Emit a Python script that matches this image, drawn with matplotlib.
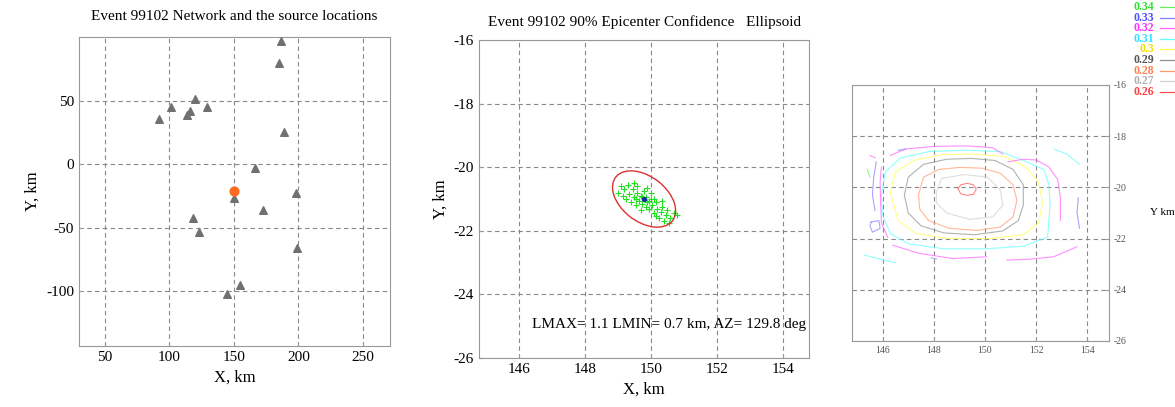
import matplotlib
matplotlib.use("Agg")
import matplotlib.pyplot as plt
from matplotlib.patches import Ellipse
from matplotlib.lines import Line2D

plt.rcParams['font.family'] = ['Liberation Serif', 'DejaVu Serif']
plt.rcParams['axes.unicode_minus'] = False

# ---- data ----
# station network (x, y in km)
sta_x = [186.8, 184.7, 119.7, 101.1, 129.2, 115.8, 113.7, 92.0, 188.8,
         166.6, 198.4, 150.1, 172.6, 118.1, 123.0, 199.1, 155.0, 144.7]
sta_y = [97.1, 79.7, 51.6, 45.0, 45.3, 41.9, 38.8, 35.4, 25.5,
         -2.9, -22.9, -26.3, -36.2, -42.7, -53.6, -65.6, -95.3, -101.8]
src_x = [150.5]
src_y = [-21.0]

# epicenter solutions (bootstrap cloud) and ellipse
cloud_x = [149.3, 149.5, 149.2, 149.45, 149.6, 149.35, 149.15, 149.5, 149.7, 149.65,
           149.85, 149.9, 150.0, 149.75, 150.05, 150.15, 150.2, 149.95, 150.3, 150.35,
           150.1, 150.45, 150.25, 150.5, 150.6, 150.55, 150.7, 149.1, 149.0, 149.25,
           149.55, 149.8, 150.0, 150.35, 149.4, 149.7, 150.8, 150.4, 149.6, 149.9,
           150.15, 149.55, 149.75, 149.95, 150.1, 149.85]
cloud_y = [-20.55, -20.5, -20.7, -20.7, -20.8, -20.85, -20.9, -20.95, -20.9, -21.05,
           -20.95, -21.1, -21.0, -21.15, -21.2, -21.1, -21.3, -21.3, -21.4, -21.25,
           -21.45, -21.5, -21.6, -21.35, -21.6, -21.75, -21.45, -20.6, -20.8, -21.0,
           -21.2, -20.75, -20.8, -21.05, -21.1, -21.35, -21.5, -21.7, -20.6, -20.65,
           -21.55, -21.0, -20.95, -21.05, -21.0, -21.25]
epi_x, epi_y = 149.8, -21.0
lmax, lmin, az = 1.1, 0.7, 129.8

# misfit contour levels and traced contour pieces (level, x list, y list)
levels = [0.34, 0.33, 0.32, 0.31, 0.3, 0.29, 0.28, 0.27, 0.26]
level_labels = ['0.34', '0.33', '0.32', '0.31', '0.3', '0.29', '0.28', '0.27', '0.26']
contours = [
    (0.26, [148.95, 149.05, 149.3, 149.55, 149.66, 149.55, 149.3, 149.05, 148.95],
           [-20.05, -19.9, -19.84, -19.9, -20.07, -20.27, -20.31, -20.25, -20.05]),
    (0.27, [148.1, 148.3, 149.2, 150.1, 150.6, 150.7, 150.3, 149.4, 148.5, 148.1, 148.1],
           [-20.2, -19.65, -19.5, -19.6, -20.1, -20.7, -21.15, -21.25, -21.0, -20.6, -20.2]),
    (0.28, [147.4, 147.6, 148.2, 149.0, 149.9, 150.6, 151.1, 151.25, 151.1, 150.6, 149.7, 148.6, 147.8, 147.45, 147.4],
           [-20.3, -19.6, -19.3, -19.22, -19.25, -19.45, -19.9, -20.5, -21.15, -21.55, -21.68, -21.6, -21.3, -20.85, -20.3]),
    (0.29, [146.85, 147.0, 147.6, 148.5, 149.5, 150.4, 151.1, 151.5, 151.5, 151.3, 150.7, 149.6, 148.4, 147.5, 147.0, 146.85],
           [-20.3, -19.6, -19.1, -18.9, -18.87, -18.95, -19.3, -19.9, -20.7, -21.3, -21.7, -21.85, -21.78, -21.5, -21.0, -20.3]),
    (0.3, [146.3, 146.5, 147.2, 148.3, 149.6, 150.8, 151.6, 152.1, 152.25, 152.1, 151.5, 150.2, 148.6, 147.3, 146.6, 146.3],
          [-20.2, -19.4, -18.95, -18.72, -18.7, -18.8, -19.2, -19.8, -20.6, -21.4, -21.85, -22.0, -22.0, -21.8, -21.3, -20.2]),
    (0.31, [145.95, 146.1, 146.7, 147.8, 149.3, 150.6, 151.5, 152.3, 152.5, 152.55, 152.5, 152.45, 151.5, 150.0, 148.4, 147.0, 146.3, 146.0, 145.95],
           [-20.3, -19.4, -18.85, -18.6, -18.55, -18.6, -18.95, -19.3, -19.9, -20.6, -21.3, -21.95, -22.3, -22.4, -22.4, -22.2, -21.8, -21.1, -20.3]),
    (0.31, [152.7, 153.2, 153.7], [-18.5, -18.7, -19.1]),
    (0.31, [145.3, 145.9, 146.5], [-22.65, -22.8, -22.95]),
    (0.32, [146.3, 146.9, 148.0, 149.3, 150.3, 150.7], [-18.75, -18.5, -18.4, -18.38, -18.45, -18.7]),
    (0.32, [150.9, 151.5, 152.0, 152.5, 152.85, 152.95, 152.95], [-19.0, -18.9, -18.93, -19.2, -19.7, -20.4, -21.3]),
    (0.32, [145.95, 145.9, 145.92, 145.95, 146.2], [-19.2, -19.8, -20.6, -21.4, -21.95]),
    (0.32, [145.5, 145.7], [-18.75, -18.85]),
    (0.32, [146.39, 147.44, 148.75, 150.07], [-22.26, -22.58, -22.78, -22.71]),
    (0.32, [150.85, 151.8, 152.69, 153.6], [-22.84, -22.8, -22.71, -22.32]),
    (0.33, [145.75, 145.65, 145.6, 145.7], [-19.0, -19.6, -20.3, -20.9]),
    (0.33, [145.55, 145.85, 145.9, 145.6, 145.5, 145.55], [-21.35, -21.3, -21.6, -21.75, -21.5, -21.35]),
    (0.33, [153.65, 153.6, 153.7], [-20.4, -21.0, -21.6]),
    (0.33, [147.9, 148.1], [-22.75, -22.8]),
    (0.33, [146.6, 146.9], [-18.55, -18.5]),
    (0.34, [145.4, 145.5], [-19.3, -19.6]),
]

# ---- styles ----
line_col = {0.34: '#60f060', 0.33: '#8080ff', 0.32: '#ff60ff', 0.31: '#60ffff', 0.3: '#ffff50',
            0.29: '#909090', 0.28: '#ff9a70', 0.27: '#d0d0d0', 0.26: '#ff5050'}
text_col = {0.34: '#30e030', 0.33: '#5050ff', 0.32: '#ff30ff', 0.31: '#30e0ff', 0.3: '#f0e000',
            0.29: '#555555', 0.28: '#ff8050', 0.27: '#b0b0b0', 0.26: '#ff4040'}
grid_kw = dict(color='#888888', linestyle=(0, (4, 3)), linewidth=0.8)


def style_axes(ax, fs=11):
    for s in ax.spines.values():
        s.set_color('#999999')
    ax.tick_params(direction='in', length=3, color='#999999', labelsize=fs)
    ax.grid(True, **grid_kw)
    ax.set_axisbelow(True)


fig = plt.figure(figsize=(11.75, 4.07), dpi=100)

# ---- panel 1: network ----
ax1 = fig.add_axes([0.0672, 0.1499, 0.2647, 0.759])
ax1.scatter(sta_x, sta_y, marker='^', s=30, color='#707070', zorder=3)
ax1.scatter(src_x, src_y, marker='o', s=40, color='#ff6a20', zorder=4)
ax1.set_xlim(30, 271)
ax1.set_ylim(-143, 100)
ax1.set_xticks([50, 100, 150, 200, 250])
ax1.set_yticks([-100, -50, 0, 50])
style_axes(ax1)
ax1.set_title('Event 99102 Network and the source locations', fontsize=11, pad=12)
ax1.set_xlabel('X, km', fontsize=12)
ax1.set_ylabel('Y, km', fontsize=12)

# ---- panel 2: confidence ellipse ----
ax2 = fig.add_axes([0.4077, 0.1204, 0.2809, 0.7813])
ax2.scatter(cloud_x, cloud_y, marker='+', s=16, color='#20e020', linewidths=0.8, zorder=3)
ax2.add_patch(Ellipse((epi_x, epi_y), 2 * lmax, 2 * lmin, angle=90 - az,
                      fill=False, edgecolor='#dd3030', linewidth=1.0, zorder=4))
ax2.scatter([epi_x], [epi_y], marker='o', s=8, color='#1030a0', zorder=5)
ax2.set_xlim(144.8, 154.8)
ax2.set_ylim(-26, -16)
ax2.set_xticks([146, 148, 150, 152, 154])
ax2.set_yticks([-26, -24, -22, -20, -18, -16])
style_axes(ax2)
ax2.text(154.7, -25.05, 'LMAX= %.1f LMIN= %.1f km, AZ= %.1f deg' % (lmax, lmin, az),
         ha='right', va='baseline', fontsize=11)
ax2.set_title('Event 99102 90% Epicenter Confidence   Ellipsoid', fontsize=11, pad=10)
ax2.set_xlabel('X, km', fontsize=12)
ax2.set_ylabel('Y, km', fontsize=12)

# ---- panel 3: misfit contours ----
ax3 = fig.add_axes([0.7251, 0.1622, 0.2187, 0.629])
for lev, cx, cy in contours:
    ax3.plot(cx, cy, color=line_col[lev], linewidth=0.8, alpha=0.7)
ax3.set_xlim(144.8, 154.85)
ax3.set_ylim(-26, -16)
ax3.set_xticks([146, 148, 150, 152, 154])
ax3.set_yticks([-26, -24, -22, -20, -18, -16])
style_axes(ax3, fs=7)
ax3.yaxis.tick_right()
ax3.tick_params(colors='#999999', labelcolor='#555555')
ax3.set_ylabel('Y km', fontsize=8, rotation=0, ha='left', va='center')
ax3.yaxis.set_label_coords(1.16, 0.5)

# legend of contour levels
for i, (lev, lab) in enumerate(zip(levels, level_labels)):
    yf = 1 - (7 + 10.6 * i) / 407
    fig.text(1154 / 1175, yf, lab, ha='right', va='center', fontsize=8.5,
             fontweight='bold', color=text_col[lev])
    fig.add_artist(Line2D([1160 / 1175, 1180 / 1175], [yf, yf], color=line_col[lev],
                          linewidth=0.9, transform=fig.transFigure))

fig.savefig('out.png', dpi=100)
